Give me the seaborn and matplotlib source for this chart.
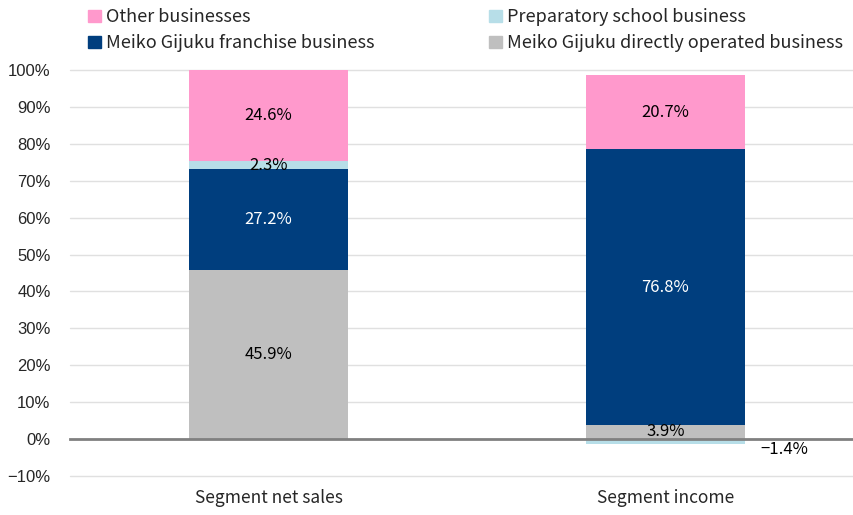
import matplotlib
matplotlib.use("Agg")
import matplotlib.pyplot as plt
import matplotlib.patches as mpatches
import seaborn as sns
import numpy as np

# categories and segments
categories = ["Segment net sales", "Segment income"]
segments = ["Meiko Gijuku directly operated business", "Meiko Gijuku franchise business",
            "Preparatory school business", "Other businesses"]
colors = ["#BFBFBF", "#003E7E", "#B7DEE8", "#FF99CC"]

# bar heights as drawn (%), per segment: [net sales, income]
directly = [45.9, 3.9]
franchise = [27.2, 74.6]
prep = [2.3, -1.4]
other = [24.6, 20.1]

# printed data labels
labels = {
    "directly": ["45.9%", "3.9%"],
    "franchise": ["27.2%", "76.8%"],
    "prep": ["2.3%", "\u22121.4%"],
    "other": ["24.6%", "20.7%"],
}

sns.set_style("white")
plt.rcParams["font.family"] = ["Noto Sans CJK JP", "DejaVu Sans"]

fig = plt.figure(figsize=(8.54, 5.15), dpi=100)
ax = fig.add_axes([70 / 854, 1 - 476 / 515, 794 / 854, (476 - 70) / 515])

series = [("directly", directly), ("franchise", franchise), ("prep", prep), ("other", other)]
pos_base = np.zeros(2)
neg_base = np.zeros(2)
for (key, vals), col in zip(series, colors):
    vals = np.array(vals)
    bottoms = np.where(vals >= 0, pos_base, neg_base)
    sns.barplot(x=categories, y=vals, bottom=bottoms, color=col, width=0.4,
                saturation=1, linewidth=0, ax=ax, zorder=3)
    for i, v in enumerate(vals):
        txt = labels[key][i]
        tc = "white" if key == "franchise" else "black"
        if v < 0:
            ax.text(i + 0.3, bottoms[i] + v - 1.3, txt, ha="center", va="center",
                    fontsize=12, color=tc, zorder=5)
        else:
            ax.text(i, bottoms[i] + v / 2, txt, ha="center", va="center",
                    fontsize=12, color=tc, zorder=5)
    pos_base = pos_base + np.where(vals >= 0, vals, 0)
    neg_base = neg_base + np.where(vals < 0, vals, 0)

ax.set_ylim(-10, 100)
ax.set_xlim(-0.5, 1.5)
ax.set_yticks(np.arange(-10, 101, 10))
ax.set_yticklabels([f"{t}%".replace("-", "\u2212") for t in range(-10, 101, 10)],
                   family=["Liberation Sans", "DejaVu Sans"], fontsize=12)
ax.tick_params(axis="y", length=0, pad=14)
ax.grid(axis="y", color="#E0E0E0", lw=1, zorder=0)
for gl in ax.get_ygridlines():
    gl.set_clip_on(False)
for s in ["top", "right", "left"]:
    ax.spines[s].set_visible(False)
ax.spines["bottom"].set_position(("data", 0))
ax.spines["bottom"].set_color("#808080")
ax.spines["bottom"].set_linewidth(2)
ax.spines["bottom"].set_zorder(4)
ax.set_xticks([0, 1])
ax.set_xticklabels(categories, fontsize=12.5)
ax.set_xticks([-0.5, 0.5, 1.5], minor=True)
ax.tick_params(axis="x", which="major", length=0, pad=36)
ax.tick_params(axis="x", which="minor", length=6, width=2, color="#808080", direction="out")
ax.set_xlabel("")
ax.set_ylabel("")

# legend in two columns
h = {s: mpatches.Patch(color=c) for s, c in zip(segments, colors)}
kw = dict(frameon=False, fontsize=13, handlelength=0.7, handleheight=0.7,
          handletextpad=0.3, labelspacing=0.45, borderaxespad=0, loc="upper left")
leg1 = fig.legend([h[segments[3]], h[segments[1]]], [segments[3], segments[1]],
                  bbox_to_anchor=(81 / 854, 1 - 1 / 515), **kw)
leg2 = fig.legend([h[segments[2]], h[segments[0]]], [segments[2], segments[0]],
                  bbox_to_anchor=(482 / 854, 1 - 1 / 515), **kw)

fig.savefig("out.png", dpi=100)
